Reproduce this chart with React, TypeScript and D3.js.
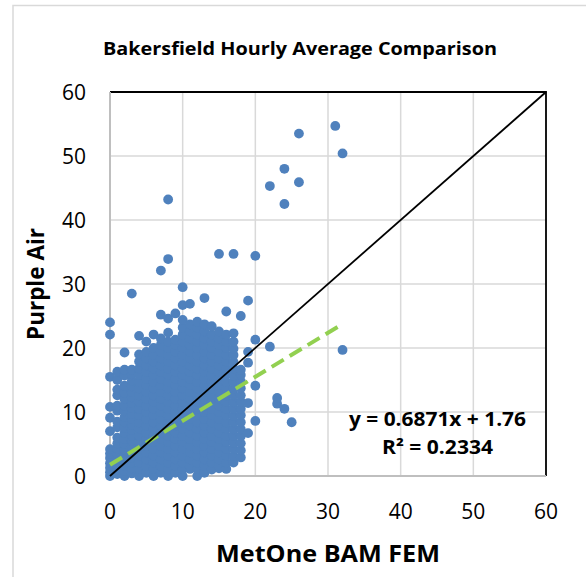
import React, { useEffect, useRef } from 'react';
import * as d3 from 'd3';

const chartTitle = 'Bakersfield Hourly Average Comparison';
const xTitle = 'MetOne BAM FEM';
const yTitle = 'Purple Air';
const xTicks = [0, 10, 20, 30, 40, 50, 60];
const yTicks = [0, 10, 20, 30, 40, 50, 60];

// BAM readings are whole numbers, so the points stack up in columns
const bamX = [0, 1, 2, 3, 4, 5, 6, 7, 8, 9, 10, 11, 12, 13, 14, 15, 16, 17, 18, 19, 20, 22, 23, 24, 25, 26, 31, 32];
const purpleY: number[][] = [
  [0, 0.6, 1.3, 2.0, 2.8, 3.5, 4.2, 7.0, 9.1, 10.8, 15.5, 22.1, 24.0],
  [0.3, 1.0, 1.8, 2.6, 3.4, 4.3, 5.1, 6.0, 7.6, 8.5, 10.2, 11.0, 12.6, 13.5, 15.0, 16.3],
  [0, 0.8, 1.6, 2.5, 3.3, 4.1, 5.0, 5.8, 6.7, 7.5, 8.4, 9.2, 10.1, 11.0, 12.0, 13.0, 14.1, 15.7, 16.6, 19.3],
  [0.4, 1.2, 2.1, 2.9, 3.8, 4.6, 5.5, 6.3, 7.2, 8.0, 8.9, 9.7, 10.6, 11.4, 12.3, 13.1, 14.0, 14.9, 15.9, 16.6, 28.5],
  [0, 1.1, 2.1, 3.2, 4.2, 5.3, 6.3, 7.4, 8.4, 9.5, 10.5, 11.6, 12.6, 13.7, 14.7, 15.8, 16.8, 17.9, 19.0, 21.9],
  [0.5, 1.6, 2.6, 3.7, 4.7, 5.8, 6.8, 7.9, 8.9, 10.0, 11.0, 12.1, 13.1, 14.2, 15.2, 16.3, 17.3, 18.4, 19.4, 21.0],
  [0, 1.1, 2.1, 3.2, 4.2, 5.3, 6.3, 7.4, 8.4, 9.5, 10.5, 11.6, 12.6, 13.7, 14.7, 15.8, 16.8, 17.9, 18.9, 20.0, 22.1],
  [0.5, 1.6, 2.6, 3.7, 4.7, 5.8, 6.8, 7.9, 8.9, 10.0, 11.0, 12.1, 13.1, 14.2, 15.2, 16.3, 17.3, 18.4, 19.4, 20.5, 21.5, 25.2, 32.1],
  [0, 1.1, 2.1, 3.2, 4.2, 5.3, 6.3, 7.4, 8.4, 9.5, 10.5, 11.6, 12.6, 13.7, 14.7, 15.8, 16.8, 17.9, 18.9, 20.0, 21.0, 22.4, 24.6, 33.9, 43.2],
  [0.5, 1.6, 2.6, 3.7, 4.7, 5.8, 6.8, 7.9, 8.9, 10.0, 11.0, 12.1, 13.1, 14.2, 15.2, 16.3, 17.3, 18.4, 19.4, 20.5, 21.3, 25.4],
  [0, 1.1, 2.1, 3.2, 4.2, 5.3, 6.3, 7.4, 8.4, 9.5, 10.5, 11.6, 12.6, 13.7, 14.7, 15.8, 16.8, 17.9, 18.9, 20.0, 21.0, 22.1, 23.2, 24.4, 26.7, 29.5],
  [1.1, 1.6, 2.6, 3.7, 4.7, 5.8, 6.8, 7.9, 8.9, 10.0, 11.0, 12.1, 13.1, 14.2, 15.2, 16.3, 17.3, 18.4, 19.4, 20.5, 21.5, 22.6, 23.7, 26.9],
  [0, 1.1, 2.1, 3.2, 4.2, 5.3, 6.3, 7.4, 8.4, 9.5, 10.5, 11.6, 12.6, 13.7, 14.7, 15.8, 16.8, 17.9, 18.9, 20.0, 21.0, 22.1, 23.2, 24.1],
  [0.5, 1.6, 2.6, 3.7, 4.7, 5.8, 6.8, 7.9, 8.9, 10.0, 11.0, 12.1, 13.1, 14.2, 15.2, 16.3, 17.3, 18.4, 19.4, 20.5, 21.5, 22.6, 23.7, 27.8],
  [1.0, 2.1, 3.2, 4.2, 5.3, 6.3, 7.4, 8.4, 9.5, 10.5, 11.6, 12.6, 13.7, 14.7, 15.8, 16.8, 17.9, 18.9, 20.0, 21.0, 22.1, 23.4],
  [1.2, 1.6, 2.6, 3.7, 4.7, 5.8, 6.8, 7.9, 8.9, 10.0, 11.0, 12.1, 13.1, 14.2, 15.2, 16.3, 17.3, 18.4, 19.4, 20.5, 21.5, 22.6, 34.7],
  [1.1, 2.1, 3.2, 4.2, 5.3, 6.3, 7.4, 8.4, 9.5, 10.5, 11.6, 12.6, 13.7, 14.7, 15.8, 16.8, 17.9, 18.9, 20.0, 21.0, 22.1, 25.7],
  [2.1, 3.1, 4.2, 5.2, 6.3, 7.3, 8.4, 9.4, 10.5, 11.5, 12.6, 13.6, 14.7, 15.7, 16.8, 17.8, 18.9, 19.9, 21.0, 22.3, 34.7],
  [2.9, 4.0, 5.1, 6.2, 7.3, 8.4, 9.5, 10.5, 11.6, 12.6, 13.7, 14.8, 15.8, 16.6, 25.0],
  [6.7, 11.4, 17.7, 19.4, 27.4],
  [8.6, 14.1, 21.3, 34.4],
  [20.2, 45.3],
  [11.3, 12.2],
  [10.5, 42.5, 48.0],
  [8.4],
  [45.9, 53.5],
  [54.7],
  [19.7, 50.4],
];

const trendSlope = 0.6871;
const trendIntercept = 1.76;
const trendXRange = [0, 32];
const equationLines = ['y = 0.6871x + 1.76', 'R\u00b2 = 0.2334'];

const App = () => {
  const svgRef = useRef<SVGSVGElement>(null);

  useEffect(() => {
    const svg = d3.select(svgRef.current);
    svg.selectAll('*').remove();

    const width = 586;
    const height = 577;
    const plot = { left: 110, right: 546, top: 92, bottom: 476 };
    const font = '"Open Sans", "Liberation Sans", sans-serif';

    svg.attr('width', width).attr('height', height).style('background', '#fff');

    // chart area border (runs off the right and bottom of the picture)
    svg
      .append('rect')
      .attr('x', 13)
      .attr('y', 5.5)
      .attr('width', 620)
      .attr('height', 620)
      .attr('fill', '#fff')
      .attr('stroke', '#d9d9d9')
      .attr('stroke-width', 1.5);

    const x = d3.scaleLinear().domain([0, 60]).range([plot.left, plot.right]);
    const y = d3.scaleLinear().domain([0, 60]).range([plot.bottom, plot.top]);

    // gridlines
    const grid = svg.append('g').attr('stroke', '#d9d9d9').attr('stroke-width', 1.5);
    xTicks.slice(1, -1).forEach((t) => {
      grid.append('line').attr('x1', x(t)).attr('x2', x(t)).attr('y1', plot.top).attr('y2', plot.bottom);
    });
    yTicks.slice(1, -1).forEach((t) => {
      grid.append('line').attr('x1', plot.left).attr('x2', plot.right).attr('y1', y(t)).attr('y2', y(t));
    });

    // plot border: black top/right, grey axis lines left/bottom
    svg
      .append('path')
      .attr('d', `M${plot.left},${plot.top}H${plot.right}V${plot.bottom}`)
      .attr('fill', 'none')
      .attr('stroke', '#000')
      .attr('stroke-width', 1.8);
    svg
      .append('path')
      .attr('d', `M${plot.left},${plot.top}V${plot.bottom}H${plot.right}`)
      .attr('fill', 'none')
      .attr('stroke', '#bfbfbf')
      .attr('stroke-width', 2);

    // scatter points
    const points = bamX.flatMap((bx, i) => purpleY[i].map((py) => ({ bx, py })));
    svg
      .append('g')
      .selectAll('circle')
      .data(points)
      .enter()
      .append('circle')
      .attr('cx', (d) => x(d.bx))
      .attr('cy', (d) => y(d.py))
      .attr('r', 4.9)
      .attr('fill', '#4f81bd');

    // linear trendline
    const line = d3
      .line<number>()
      .x((d) => x(d))
      .y((d) => y(trendSlope * d + trendIntercept));
    svg
      .append('path')
      .attr('d', line(trendXRange))
      .attr('fill', 'none')
      .attr('stroke', '#92d050')
      .attr('stroke-width', 4)
      .attr('stroke-dasharray', '14,7');

    // 1:1 line
    svg
      .append('path')
      .attr('d', d3.line<number>().x((d) => x(d)).y((d) => y(d))([0, 60]))
      .attr('fill', 'none')
      .attr('stroke', '#000')
      .attr('stroke-width', 1.8);

    // tick labels
    svg
      .append('g')
      .selectAll('text')
      .data(yTicks)
      .enter()
      .append('text')
      .attr('x', 86)
      .attr('y', (d) => y(d) + 7.6)
      .attr('text-anchor', 'end')
      .attr('font-family', font)
      .attr('font-size', 21)
      .attr('fill', '#000')
      .text((d) => d);
    svg
      .append('g')
      .selectAll('text')
      .data(xTicks)
      .enter()
      .append('text')
      .attr('x', (d) => x(d))
      .attr('y', 519)
      .attr('text-anchor', 'middle')
      .attr('font-family', font)
      .attr('font-size', 21)
      .attr('fill', '#000')
      .text((d) => d);

    // titles
    svg
      .append('text')
      .attr('x', 300)
      .attr('y', 55)
      .attr('text-anchor', 'middle')
      .attr('font-family', font)
      .attr('font-weight', 'bold')
      .attr('font-size', 17.5)
      .attr('textLength', 394)
      .attr('lengthAdjust', 'spacingAndGlyphs')
      .text(chartTitle);
    svg
      .append('text')
      .attr('x', (plot.left + plot.right) / 2)
      .attr('y', 562)
      .attr('text-anchor', 'middle')
      .attr('font-family', font)
      .attr('font-weight', 'bold')
      .attr('font-size', 23)
      .attr('textLength', 224)
      .attr('lengthAdjust', 'spacingAndGlyphs')
      .text(xTitle);
    svg
      .append('text')
      .attr('transform', `translate(44,${(plot.top + plot.bottom) / 2}) rotate(-90)`)
      .attr('text-anchor', 'middle')
      .attr('font-family', font)
      .attr('font-weight', 'bold')
      .attr('font-size', 23)
      .attr('textLength', 112)
      .attr('lengthAdjust', 'spacingAndGlyphs')
      .text(yTitle);

    // trendline equation
    const eqWidths = [177, 111];
    equationLines.forEach((t, i) => {
      svg
        .append('text')
        .attr('x', 437.5)
        .attr('y', 426 + i * 28)
        .attr('text-anchor', 'middle')
        .attr('font-family', font)
        .attr('font-weight', 'bold')
        .attr('font-size', 19)
        .attr('textLength', eqWidths[i])
        .attr('lengthAdjust', 'spacingAndGlyphs')
        .text(t);
    });
  }, []);

  return (
    <svg
      ref={svgRef}
      style={{ position: 'absolute', left: 0, top: 0, display: 'block' }}
    ></svg>
  );
};

export default App;
